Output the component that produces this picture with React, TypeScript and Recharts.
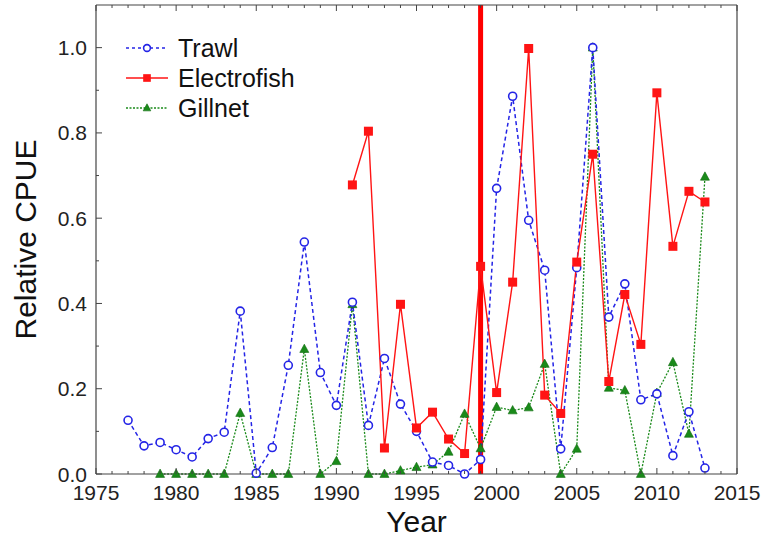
import React from 'react';
import { LineChart, Line, XAxis, YAxis, ReferenceLine, Legend } from 'recharts';

// Relative CPUE by gear type, 1977-2013 (null = not sampled)
const years = [
  1977, 1978, 1979, 1980, 1981, 1982, 1983, 1984, 1985, 1986, 1987, 1988, 1989,
  1990, 1991, 1992, 1993, 1994, 1995, 1996, 1997, 1998, 1999, 2000, 2001, 2002,
  2003, 2004, 2005, 2006, 2007, 2008, 2009, 2010, 2011, 2012, 2013,
];

const trawl = [
  0.126, 0.066, 0.074, 0.057, 0.04, 0.083, 0.098, 0.382, 0.002, 0.062, 0.255, 0.544, 0.238,
  0.161, 0.403, 0.114, 0.271, 0.164, 0.1, 0.028, 0.02, 0.0, 0.034, 0.67, 0.886, 0.595,
  0.478, 0.059, 0.484, 1.0, 0.368, 0.446, 0.174, 0.188, 0.043, 0.146, 0.014,
];

const electrofish = [
  null, null, null, null, null, null, null, null, null, null, null, null, null,
  null, 0.678, 0.804, 0.061, 0.398, 0.108, 0.145, 0.082, 0.048, 0.487, 0.191, 0.45, 0.998,
  0.185, 0.142, 0.497, 0.75, 0.217, 0.421, 0.304, 0.894, 0.534, 0.663, 0.638,
];

const gillnet = [
  null, null, 0, 0, 0, 0, 0, 0.143, 0, 0, 0, 0.293, 0,
  0.03, 0.398, 0, 0, 0.008, 0.016, 0.022, 0.052, 0.141, 0.06, 0.157, 0.149, 0.156,
  0.258, 0, 0.059, 1.0, 0.202, 0.196, 0, 0.19, 0.262, 0.094, 0.697,
];

const xTicks = [
  1975, 1976, 1977, 1978, 1979, 1980, 1981, 1982, 1983, 1984, 1985, 1986, 1987, 1988,
  1989, 1990, 1991, 1992, 1993, 1994, 1995, 1996, 1997, 1998, 1999, 2000, 2001, 2002,
  2003, 2004, 2005, 2006, 2007, 2008, 2009, 2010, 2011, 2012, 2013, 2014, 2015,
];
const yTicks = [0, 0.1, 0.2, 0.3, 0.4, 0.5, 0.6, 0.7, 0.8, 0.9, 1.0];

const breakYear = 1999;

const data = years.map((year, i) => ({
  year,
  trawl: trawl[i],
  electrofish: electrofish[i],
  gillnet: gillnet[i],
}));

const FONT = '"Liberation Sans", Arial, sans-serif';
const AXIS = '#444';
const BLUE = '#2424e6';
const RED = '#ff1414';
const GREEN = '#1a8a1a';

const isMajorX = (v: number) => v % 5 === 0;
const isMajorY = (v: number) => Math.round(v * 10) % 2 === 0;

function BottomTick(p: any) {
  const v = p.payload.value;
  const major = isMajorX(v);
  return (
    <g>
      <line x1={p.x} x2={p.x} y1={p.y} y2={p.y - (major ? 6 : 3)} stroke={AXIS} />
      {major && (
        <text x={p.x} y={p.y + 26} textAnchor="middle" fontFamily={FONT} fontSize={21} fill="#222">
          {v}
        </text>
      )}
    </g>
  );
}

function TopTick(p: any) {
  const major = isMajorX(p.payload.value);
  return <line x1={p.x} x2={p.x} y1={p.y} y2={p.y + (major ? 6 : 3)} stroke={AXIS} />;
}

function LeftTick(p: any) {
  const v = p.payload.value;
  const major = isMajorY(v);
  return (
    <g>
      <line x1={p.x} x2={p.x + (major ? 6 : 3)} y1={p.y} y2={p.y} stroke={AXIS} />
      {major && (
        <text x={p.x - 9} y={p.y + 7.5} textAnchor="end" fontFamily={FONT} fontSize={21} fill="#222">
          {v.toFixed(1)}
        </text>
      )}
    </g>
  );
}

function RightTick(p: any) {
  const major = isMajorY(p.payload.value);
  return <line x1={p.x} x2={p.x - (major ? 6 : 3)} y1={p.y} y2={p.y} stroke={AXIS} />;
}

function Circle({ cx, cy, size = 1 }: any) {
  return <circle cx={cx} cy={cy} r={4 * size} fill="#fff" stroke={BLUE} strokeWidth={1.6} />;
}
function Square({ cx, cy, size = 1 }: any) {
  const h = 4.5 * size;
  return <rect x={cx - h} y={cy - h} width={h * 2} height={h * 2} fill={RED} />;
}
function Triangle({ cx, cy, size = 1 }: any) {
  const s = 4.5 * size;
  return (
    <polygon
      points={`${cx},${cy - s * 1.1} ${cx - s},${cy + s * 0.75} ${cx + s},${cy + s * 0.75}`}
      fill={GREEN}
      stroke="#0d6b0d"
      strokeWidth={0.6}
    />
  );
}

const markerFor: Record<string, any> = { trawl: Circle, electrofish: Square, gillnet: Triangle };

const makeDot = (key: string) => (p: any) => {
  const M = markerFor[key];
  if (p.cx == null || p.cy == null || p.value == null) return <g key={`${key}-${p.index}`} />;
  return (
    <g key={`${key}-${p.index}`}>
      <M cx={p.cx} cy={p.cy} />
    </g>
  );
};

const legendRows = [
  { key: 'trawl', name: 'Trawl', color: BLUE, dash: '3 3', width: 1.3 },
  { key: 'electrofish', name: 'Electrofish', color: RED, dash: undefined, width: 1.6 },
  { key: 'gillnet', name: 'Gillnet', color: GREEN, dash: '2 1.5', width: 1.3 },
];

function LegendBox() {
  return (
    <div style={{ fontFamily: FONT, fontSize: 25, color: '#111' }}>
      {legendRows.map((r) => {
        const M = markerFor[r.key];
        return (
          <div key={r.key} style={{ display: 'flex', alignItems: 'center', height: 30 }}>
            <svg width={44} height={14} style={{ marginRight: 9 }}>
              <line x1={1} y1={7} x2={43} y2={7} stroke={r.color} strokeWidth={r.width} strokeDasharray={r.dash} />
              <M cx={22} cy={7} size={0.85} />
            </svg>
            <span style={{ lineHeight: '30px' }}>{r.name}</span>
          </div>
        );
      })}
    </div>
  );
}

export default function App() {
  return (
    <div style={{ position: 'absolute', left: 0, top: 0, background: '#fff' }}>
      <LineChart width={763} height={550} data={data} margin={{ top: 0, right: 0, bottom: 0, left: 0 }}>
        <XAxis
          dataKey="year"
          type="number"
          domain={[1975, 2015]}
          ticks={xTicks}
          interval={0}
          height={76}
          tickSize={0}
          tickMargin={0}
          tickLine={false}
          tick={BottomTick}
          axisLine={{ stroke: AXIS, strokeWidth: 1.2 }}
          label={{
            content: (p: any) => (
              <text
                x={p.viewBox.x + p.viewBox.width / 2}
                y={p.viewBox.y + 58}
                textAnchor="middle"
                fontFamily={FONT}
                fontSize={30}
                fill="#111"
              >
                Year
              </text>
            ),
          }}
        />
        <XAxis
          xAxisId="top"
          orientation="top"
          dataKey="year"
          type="number"
          domain={[1975, 2015]}
          ticks={xTicks}
          interval={0}
          height={5}
          tickSize={0}
          tickMargin={0}
          tickLine={false}
          tick={TopTick}
          axisLine={{ stroke: AXIS, strokeWidth: 1.2 }}
        />
        <YAxis
          type="number"
          domain={[0, 1.1]}
          ticks={yTicks}
          interval={0}
          width={96}
          tickSize={0}
          tickMargin={0}
          tickLine={false}
          tick={LeftTick}
          axisLine={{ stroke: AXIS, strokeWidth: 1.2 }}
          label={{
            content: (p: any) => {
              const x = p.viewBox.x + 36;
              const y = p.viewBox.y + p.viewBox.height / 2;
              return (
                <text
                  x={x}
                  y={y}
                  transform={`rotate(-90, ${x}, ${y})`}
                  textAnchor="middle"
                  fontFamily={FONT}
                  fontSize={30}
                  fill="#111"
                >
                  Relative CPUE
                </text>
              );
            },
          }}
        />
        <YAxis
          yAxisId="right"
          orientation="right"
          type="number"
          domain={[0, 1.1]}
          ticks={yTicks}
          interval={0}
          width={26}
          tickSize={0}
          tickMargin={0}
          tickLine={false}
          tick={RightTick}
          axisLine={{ stroke: AXIS, strokeWidth: 1.2 }}
        />
        <ReferenceLine x={breakYear} stroke="#ff0000" strokeWidth={5} />
        <Legend
          layout="vertical"
          align="center"
          verticalAlign="middle"
          wrapperStyle={{ left: 125, top: 33, width: 'auto' }}
          content={() => <LegendBox />}
        />
        <Line
          dataKey="gillnet"
          name="Gillnet"
          stroke={GREEN}
          strokeWidth={1.3}
          strokeDasharray="2 1.5"
          dot={makeDot('gillnet')}
          isAnimationActive={false}
        />
        <Line
          dataKey="trawl"
          name="Trawl"
          stroke={BLUE}
          strokeWidth={1.5}
          strokeDasharray="4 3"
          dot={makeDot('trawl')}
          isAnimationActive={false}
        />
        <Line
          dataKey="electrofish"
          name="Electrofish"
          stroke={RED}
          strokeWidth={1.4}
          dot={makeDot('electrofish')}
          isAnimationActive={false}
        />
      </LineChart>
    </div>
  );
}
